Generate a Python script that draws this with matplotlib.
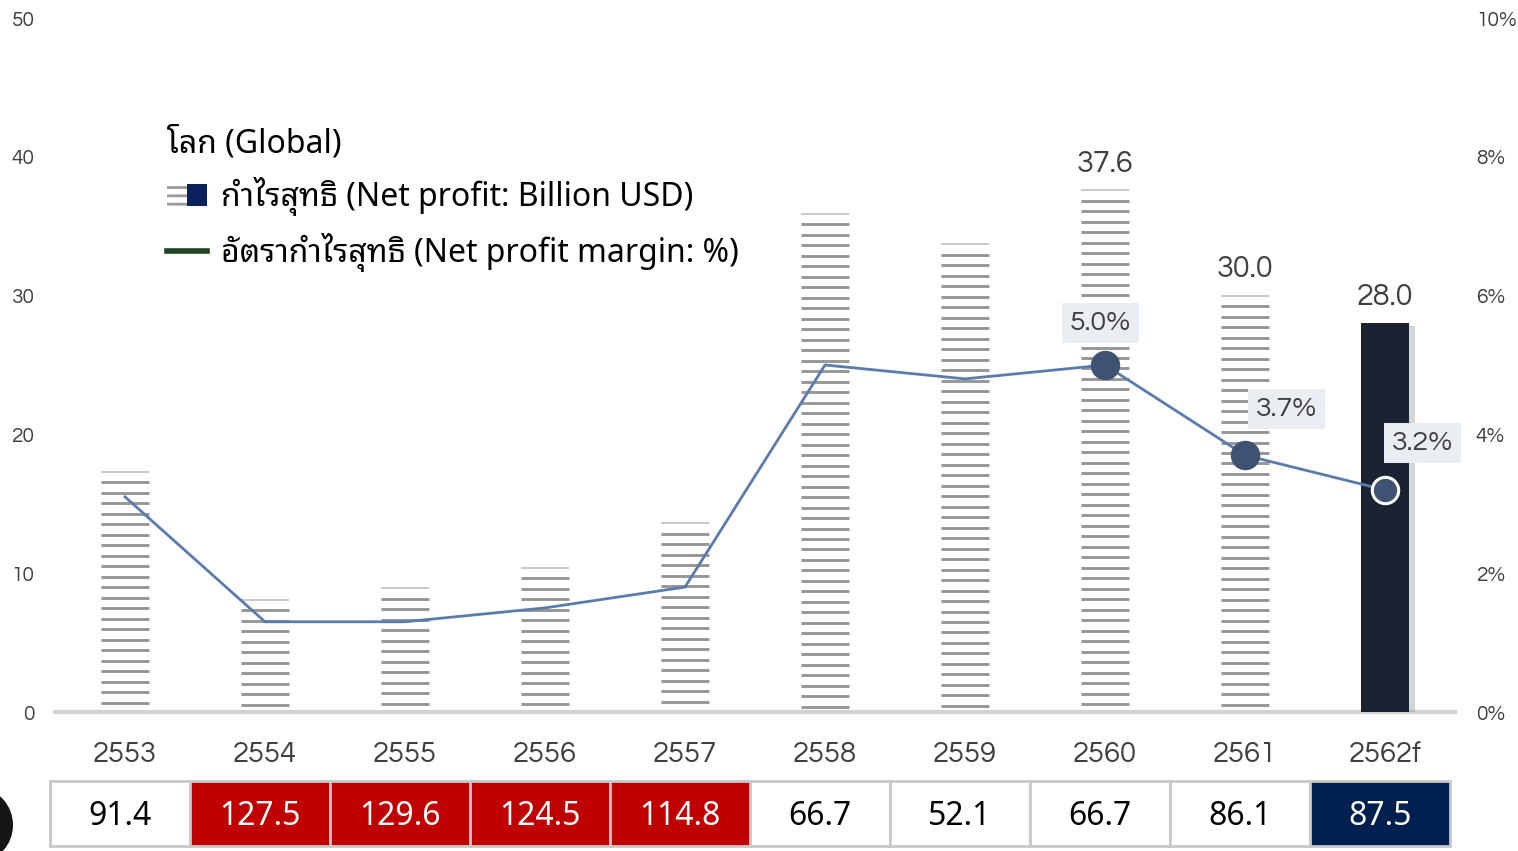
import numpy as np
import matplotlib
matplotlib.use('Agg')
import matplotlib.pyplot as plt
import matplotlib.patheffects as pe
from matplotlib.patches import Rectangle, Ellipse
from matplotlib.lines import Line2D
from matplotlib.legend_handler import HandlerTuple
from matplotlib.transforms import blended_transform_factory

# data
years = ['2553', '2554', '2555', '2556', '2557', '2558', '2559', '2560', '2561', '2562f']
net_profit = [17.3, 8.1, 8.9, 10.4, 13.6, 35.9, 33.7, 37.6, 30.0, 28.0]
margin = [3.1, 1.3, 1.3, 1.5, 1.8, 5.0, 4.8, 5.0, 3.7, 3.2]
table_vals = ['91.4', '127.5', '129.6', '124.5', '114.8', '66.7', '52.1', '66.7', '86.1', '87.5']
table_kind = ['plain', 'red', 'red', 'red', 'red', 'plain', 'plain', 'plain', 'plain', 'navy']
labelled = [7, 8, 9]  # points/bars that carry value labels

num_font = 'Questrial'
thai_font = ['Noto Sans Thai Looped', 'Noto Sans', 'DejaVu Sans']

plt.rcParams['hatch.color'] = '#9a9a9a'
plt.rcParams['hatch.linewidth'] = 2.0

fig = plt.figure(figsize=(15.18, 8.51), dpi=100)
ax = fig.add_axes([55 / 1518, 139 / 851, 1400 / 1518, 694 / 851])
ax2 = ax.twinx()
ax.set_zorder(1)
ax2.set_zorder(2)
ax.patch.set_visible(False)
ax2.patch.set_visible(False)

x = np.arange(len(years))
w = 0.336
step = 0.756

# striped bars (all but forecast) and solid forecast bar
for i, v in enumerate(net_profit):
    if i == len(years) - 1:
        ax.bar(x[i], v, width=w, color='#1b2231', zorder=3,
               path_effects=[pe.SimplePatchShadow(offset=(5, -2), shadow_rgbFace='#888888', alpha=0.35),
                             pe.Normal()])
    else:
        ys = np.arange(v, 0.2, -step)
        ax.hlines(ys[1:], x[i] - w / 2, x[i] + w / 2, colors='#979797', lw=2.1, zorder=3)
        ax.hlines(ys[:1], x[i] - w / 2, x[i] + w / 2, colors='#c4c4c4', lw=1.3, zorder=3)

for i in labelled:
    ax.annotate(f'{net_profit[i]:.1f}', (x[i], net_profit[i]), xytext=(0, 9), textcoords='offset points',
                ha='center', va='bottom', fontsize=22, family=num_font, color='#404040')

ax.set_xlim(-0.5, 9.5)
ax.set_ylim(0, 50)
ax.set_yticks([0, 10, 20, 30, 40, 50])
ax.set_xticks(x)
ax.set_xticklabels(years, fontsize=21, family=num_font, color='#404040')
ax.tick_params(axis='x', length=0, pad=21)
ax.tick_params(axis='y', length=0, pad=15, labelsize=15, labelcolor='#404040')
for lab in ax.get_yticklabels():
    lab.set_family(num_font)
for s in ['top', 'left', 'right']:
    ax.spines[s].set_visible(False)
ax.spines['bottom'].set_color('#d2d2d2')
ax.spines['bottom'].set_linewidth(3)
ax.spines['bottom'].set_zorder(2)

# margin line
ax2.plot(x, margin, color='#5a7bab', lw=2, zorder=4)
for i in labelled:
    edge = 'white' if i == len(years) - 1 else '#3f5272'
    ax2.plot(x[i], margin[i], 'o', ms=19, mfc='#3f5272', mec=edge, mew=2.2, zorder=5)
offsets = {7: (-3, 30), 8: (30, 33), 9: (27, 34)}
for i in labelled:
    ax2.annotate(f'{margin[i]:.1f}%', (x[i], margin[i]), xytext=offsets[i], textcoords='offset points',
                 ha='center', va='center', fontsize=20.5, family=num_font, color='#404040', zorder=6,
                 bbox=dict(boxstyle='square,pad=0.28', fc='#eaedf2', ec='none'))
ax2.set_ylim(0, 10)
ax2.set_yticks([0, 2, 4, 6, 8, 10])
ax2.set_yticklabels([f'{t}%' for t in [0, 2, 4, 6, 8, 10]], family=num_font)
ax2.tick_params(axis='y', length=0, pad=15, labelsize=15, labelcolor='#404040')
for s in ['top', 'left', 'right', 'bottom']:
    ax2.spines[s].set_visible(False)

# table of values under the axis
tr = blended_transform_factory(ax.transData, ax.transAxes)
colors = {'plain': ('white', 'black'), 'red': ('#c00000', 'white'), 'navy': ('#002050', 'white')}
cell_top, cell_h = -0.0994, 0.0936
for i, (val, kind) in enumerate(zip(table_vals, table_kind)):
    fc, tc = colors[kind]
    ax.add_patch(Rectangle((x[i] - 0.5 - 0.036, cell_top - cell_h), 1, cell_h, transform=tr,
                           fc=fc, ec='#c8c8c8', lw=2, clip_on=False, zorder=2))
    ax.text(x[i] - 0.036, cell_top - cell_h / 2 - 0.004, val, transform=tr, ha='center', va='center',
            fontsize=23, family=thai_font, color=tc, zorder=3)

# legend
h_bar = (Rectangle((0, 0), 1, 1, fc='white', ec='#9a9a9a', hatch='--', lw=0),
         Rectangle((0, 0), 1, 1, fc='#0c2060', ec='none'))
h_line = Line2D([], [], color='#1f4223', lw=4)
leg = ax.legend([h_bar, h_line],
                ['กำไรสุทธิ (Net profit: Billion USD)', 'อัตรากำไรสุทธิ (Net profit margin: %)'],
                handler_map={tuple: HandlerTuple(ndivide=None, pad=0)},
                title='โลก (Global)', alignment='left', loc='upper left',
                bbox_to_anchor=(154 / 1518, 1 - 114 / 851), bbox_transform=fig.transFigure,
                frameon=False, prop=dict(family=thai_font, size=23),
                title_fontproperties=dict(family=thai_font, size=23),
                handlelength=1.25, handletextpad=0.45, labelspacing=0.53, borderaxespad=0)
leg.set_zorder(10)

# decorative dark disc at the bottom-left edge
fig.patches.append(Ellipse((-20, 26), 66, 72, transform=None, fc='#151515', ec='none'))

fig.savefig('out.png', dpi=100)
